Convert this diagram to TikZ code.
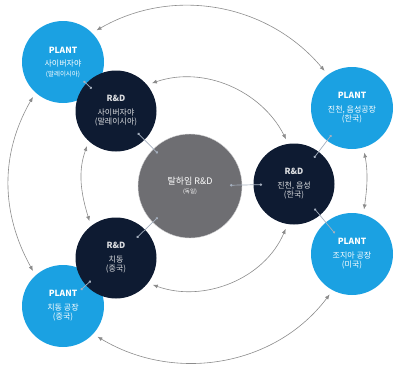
\documentclass[tikz,border=0pt]{standalone}
\usepackage{fontspec}
\setmainfont{Noto Sans CJK KR}
\usepackage{xcolor}
\usepackage{tikz}
\usetikzlibrary{arrows.meta}
\definecolor{plantblue}{RGB}{27, 161, 226}
\definecolor{rdnavy}{RGB}{14, 27, 50}
\definecolor{hqgray}{RGB}{110, 110, 114}
\definecolor{arcgray}{RGB}{140, 140, 140}
\definecolor{linkgray}{RGB}{165, 175, 190}

\begin{document}
\begin{tikzpicture}[x=1pt, y=1pt,
    plantnode/.style={circle, fill=plantblue, minimum size=82pt, inner sep=0pt,
                align=center, text=white, font=\fontsize{8}{9.5}\selectfont},
    rdnode/.style={circle, fill=rdnavy, minimum size=81pt, inner sep=0pt,
                align=center, text=white!85!rdnavy, font=\fontsize{8}{9.5}\selectfont},
    hqnode/.style={circle, fill=hqgray, draw=white!70!hqgray, minimum size=104pt, inner sep=0pt,
                align=center, text=white, font=\fontsize{8}{9.5}\selectfont},
    flow/.style={draw=arcgray, line width=0.6pt, {Latex[length=5pt,width=4pt]}-{Latex[length=5pt,width=4pt]},
                shorten <=5pt, shorten >=5pt},
    link/.style={draw=linkgray, line width=0.7pt, {Circle[length=2.4pt]}-{Circle[length=2.4pt]}}
  ]
    \useasboundingbox (0,0) rectangle (394,-370);

    % sites
    \node[plantnode] (plantA) at (63,-62)   {{\bfseries\fontsize{8.5}{10}\selectfont PLANT}\\[4pt] 사이버자야\\{\fontsize{6.5}{8}\selectfont (말레이시아)}};
    \node[rdnode]    (rdA)    at (116,-111) {{\bfseries\fontsize{8.5}{10}\selectfont R\&D}\\[4pt] 사이버자야\\(말레이시아)};
    \node[hqnode]    (hq)     at (190,-186) {\fontsize{9}{11}\selectfont 탈하임 R\&D\\{\fontsize{5.5}{7}\selectfont (독일)}};
    \node[rdnode]    (rdB)    at (294,-184) {{\bfseries\fontsize{8.5}{10}\selectfont R\&D}\\[4pt] 진천, 음성\\(한국)};
    \node[plantnode] (plantB) at (352,-108) {{\bfseries\fontsize{8.5}{10}\selectfont PLANT}\\[4pt] 진천, 음성공장\\(한국)};
    \node[plantnode] (plantC) at (352,-254) {{\bfseries\fontsize{8.5}{10}\selectfont PLANT}\\[4pt] 조지아 공장\\(미국)};
    \node[plantnode] (plantD) at (63,-306)  {{\bfseries\fontsize{8.5}{10}\selectfont PLANT}\\[4pt] 치동 공장\\(중국)};
    \node[rdnode]    (rdC)    at (116,-258) {{\bfseries\fontsize{8.5}{10}\selectfont R\&D}\\[4pt] 치동\\(중국)};

    % outer ring
    \draw[flow] (plantA.45)  to[out=30, in=130]  (plantB.126);
    \draw[flow] (plantB.-74) to[out=-79, in=82]  (plantC.74);
    \draw[flow] (plantD.-43) to[out=-31, in=233] (plantC.242);
    \draw[flow] (plantA.228) to[out=240, in=119] (plantD.132);

    % inner ring
    \draw[flow] (rdA.40)  to[out=19, in=117]  (rdB.98);
    \draw[flow] (rdC.-38) to[out=-20, in=247] (rdB.261);
    \draw[flow] (rdA.228) to[out=250, in=107] (rdC.128);

    % links
    \draw[link, shorten <=28pt, shorten >=33pt] (plantA.center) -- (rdA.center);
    \draw[link, shorten <=31pt, shorten >=46pt] (rdA.center) -- (hq.center);
    \draw[link, shorten <=40pt, shorten >=32pt] (hq.center) -- (rdB.center);
    \draw[link, shorten <=33pt, shorten >=34pt] (rdB.center) -- (plantB.center);
    \draw[link, shorten <=32pt, shorten >=27pt] (rdB.center) -- (plantC.center);
    \draw[link, shorten <=29pt, shorten >=45pt] (rdC.center) -- (hq.center);
    \draw[link, shorten <=34pt, shorten >=24pt] (rdC.center) -- (plantD.center);
  \end{tikzpicture}
\end{document}
